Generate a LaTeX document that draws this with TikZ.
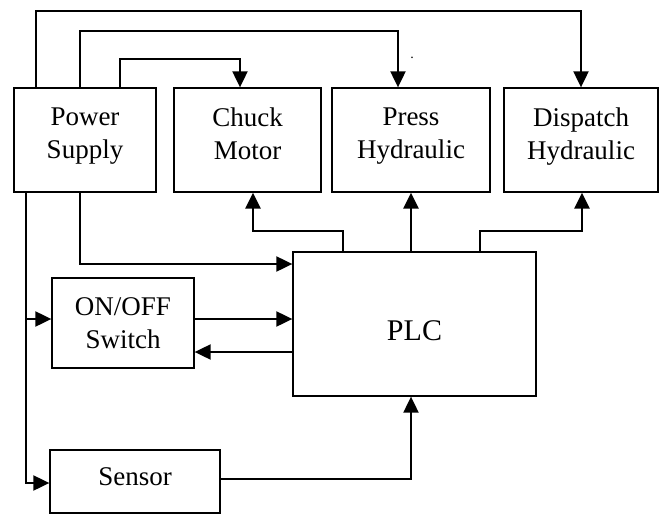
\documentclass[tikz,border=0pt]{standalone}
\usepackage{fontspec}
\setmainfont{Liberation Serif}
\usetikzlibrary{arrows.meta}
\begin{document}
\begin{tikzpicture}[x=1pt,y=-1pt,
  blockbox/.style={draw,line width=1.3pt,inner sep=0pt},
  txt/.style={align=center,inner sep=0pt,font=\fontsize{27}{33}\selectfont},
  conn/.style={line width=2pt,-{Triangle[length=16pt,width=15pt]}}]
\useasboundingbox (0,0) rectangle (670,514);
\node[blockbox,minimum width=142pt,minimum height=104pt,
  label={[txt,yshift=3.5pt]center:{Power\\Supply}}] (ps) at (85,140) {};
\node[blockbox,minimum width=147pt,minimum height=104pt,
  label={[txt,yshift=3.5pt]center:{Chuck\\Motor\vphantom{y}}}] (chuck) at (247.5,140) {};
\node[blockbox,minimum width=158pt,minimum height=104pt,
  label={[txt,yshift=3.5pt]center:{Press\\Hydraulic}}] (press) at (411,140) {};
\node[blockbox,minimum width=154pt,minimum height=104pt,
  label={[txt,yshift=3.5pt]center:{Dispatch\\Hydraulic}}] (disp) at (581,140) {};
\node[blockbox,minimum width=243pt,minimum height=144pt,
  label={[txt,font=\fontsize{30}{36}\selectfont,yshift=-7pt]center:{PLC}}] (plc) at (414.5,324) {};
\node[blockbox,minimum width=142pt,minimum height=90pt,
  label={[txt]center:{ON/OFF\\Switch}}] (onoff) at (123,323) {};
\node[blockbox,minimum width=170pt,minimum height=63pt,
  label={[txt,yshift=4.5pt]center:{Sensor}}] (sensor) at (135,481.5) {};
\node[font=\fontsize{14}{14}\selectfont,inner sep=0pt] (dot) at (412,58) {.};
% power supply to actuators
\draw[conn] (ps.north -| 36,0) |- (581,11) -- (disp.north);
\draw[conn] (ps.north -| 80,0) |- (398,31) -- (press.north -| 398,0);
\draw[conn] (ps.north -| 120,0) |- (240,59) -- (chuck.north -| 240,0);
% PLC to actuators
\draw[conn,line width=2.6pt] (plc.north -| 343,0) |- (253,231) -- (chuck.south -| 253,0);
\draw[conn,line width=2.6pt] (plc.north -| 411,0) -- (press.south -| 411,0);
\draw[conn,line width=2.6pt] (plc.north -| 480,0) |- (582,231) -- (disp.south -| 582,0);
% power supply to PLC
\draw[conn] (ps.south -| 80,0) |- (plc.west |- 0,264);
% power bus
\coordinate (j) at (26,319);
\draw[conn] (ps.south -| 26,0) |- (sensor.west |- 0,483);
\draw[conn] (j) -- (onoff.west |- j);
% switch and PLC
\draw[conn] (onoff.east |- 0,319) -- (plc.west |- 0,319);
\draw[conn] (plc.west |- 0,352) -- (onoff.east |- 0,352);
% sensor to PLC
\draw[conn] (sensor.east |- 0,479) -| (plc.south -| 411,0);
\end{tikzpicture}
\end{document}
